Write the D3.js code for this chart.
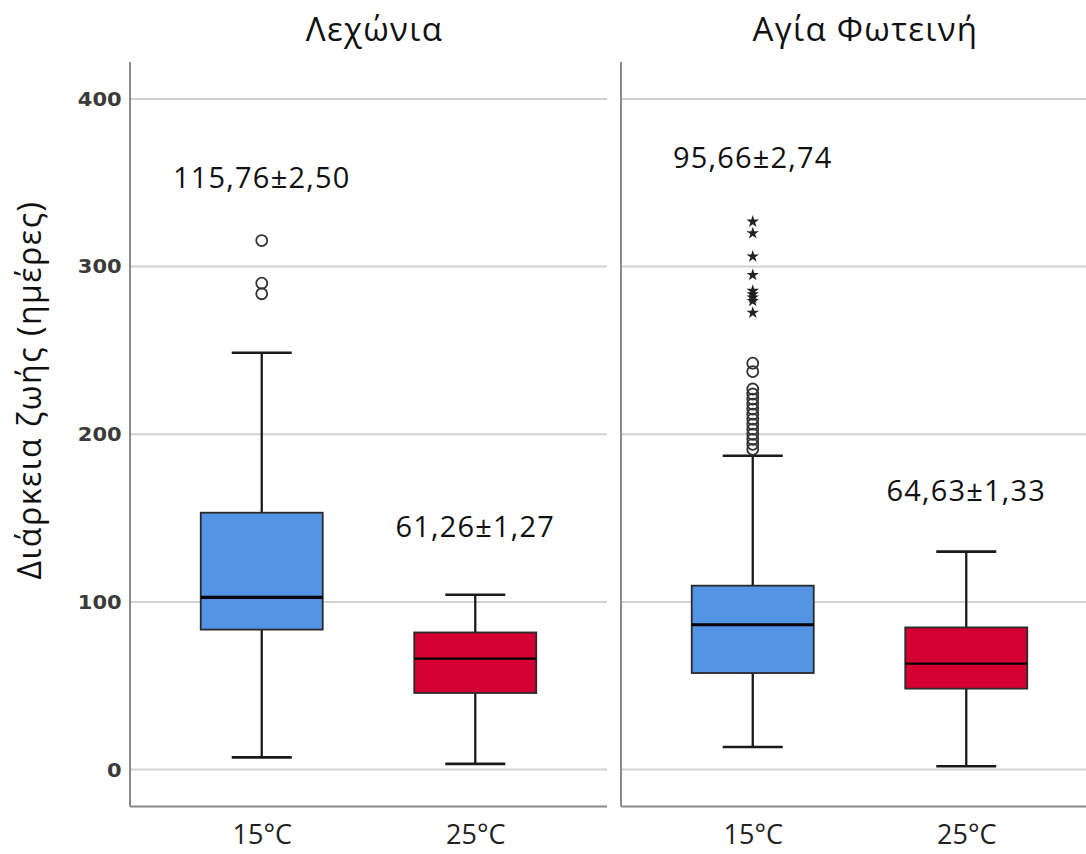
<!DOCTYPE html>
<html>
<head>
<meta charset="utf-8">
<script src="https://d3js.org/d3.v7.min.js"></script>
<style>
  body { margin: 0; background: #fff; }
  text { font-family: "Open Sans", "Noto Sans", sans-serif; fill: #111; }
</style>
</head>
<body>
<script>
// panels (sites) and groups (temperature)
const sites = ["Λεχώνια", "Αγία Φωτεινή"];
const temps = ["15°C", "25°C"];
const yTicks = [0, 100, 200, 300, 400];

// one entry per box: site index, temp index
const boxSite = [0, 0, 1, 1];
const boxTemp = [0, 1, 0, 1];
const whiskerLow  = [7.3, 3.4, 13.5, 2.0];
const q1          = [83.5, 45.7, 57.6, 48.3];
const median      = [102.7, 66.2, 86.4, 63.2];
const q3          = [153.2, 81.8, 109.7, 84.8];
const whiskerHigh = [248.6, 104.3, 187.2, 130.0];
const meanLabel   = ["115,76±2,50", "61,26±1,27", "95,66±2,74", "64,63±1,33"];
const labelValue  = [347, 139, 359, 160];

// outliers (circles) and extremes (stars)
const outlierCircles = [
  [315.5, 290.1, 283.8],
  [],
  [242.4, 237.4, 227, 224, 221, 218, 215, 212, 209, 206, 203, 200, 197, 194, 191],
  []
];
const extremeStars = [
  [],
  [],
  [326.8, 319.9, 306.0, 295.0, 285.5, 283.5, 281.5, 279.5, 272.5],
  []
];

const boxFill = ["#5394e4", "#d50032"];

const W = 1086, H = 854;
const svg = d3.select("body").append("svg")
    .attr("width", W)
    .attr("height", H);

const y = d3.scaleLinear().domain([-22, 422]).range([806.5, 62]);

const panel = d3.scaleBand().domain(sites).range([130, 1098]).paddingInner(0.0285);
const bw = panel.bandwidth();
const x = d3.scalePoint().domain(temps).range([0, bw]).padding(0.617);

const boxW = 122, capW = 60;

sites.forEach(function(site, si) {
    const g = svg.append("g").attr("transform", "translate(" + panel(site) + ",0)");

    // gridlines
    g.selectAll(".grid")
        .data(yTicks)
        .enter().append("line")
        .attr("x1", 0).attr("x2", bw)
        .attr("y1", d => y(d)).attr("y2", d => y(d))
        .attr("stroke", "#d2d2d2")
        .attr("stroke-width", 2);

    // left + bottom frame
    g.append("line")
        .attr("x1", 0).attr("x2", 0)
        .attr("y1", y.range()[1]).attr("y2", y.range()[0])
        .attr("stroke", "#8a8a8a").attr("stroke-width", 2);
    g.append("line")
        .attr("x1", 0).attr("x2", bw)
        .attr("y1", y.range()[0]).attr("y2", y.range()[0])
        .attr("stroke", "#8a8a8a").attr("stroke-width", 2);

    // y tick labels only on first panel
    if (si === 0) {
        const ax = g.append("g")
            .call(d3.axisLeft(y).tickValues(yTicks).tickSize(0).tickPadding(8));
        ax.select(".domain").remove();
        ax.selectAll("text")
            .style("font-family", "'DejaVu Sans', sans-serif")
            .style("font-size", "20px")
            .style("font-weight", "bold")
            .style("fill", "#3a3a3a")
            .attr("transform", "scale(1.05,1)");
    }

    // x labels
    const xa = g.append("g")
        .attr("transform", "translate(0," + y.range()[0] + ")")
        .call(d3.axisBottom(x).tickSize(0).tickPadding(18));
    xa.select(".domain").remove();
    xa.selectAll("text")
        .style("font-size", "27px")
        .style("fill", "#222");

    // title
    svg.append("text")
        .attr("x", panel(site) + bw / 2 + 6)
        .attr("y", 41)
        .attr("text-anchor", "middle")
        .style("font-size", "33px")
        .style("letter-spacing", "1.3px")
        .text(site);
});

// boxes
const idx = d3.range(boxSite.length);
const bg = svg.selectAll(".box")
    .data(idx)
    .enter().append("g")
    .attr("class", "box")
    .attr("transform", i => "translate(" + (panel(sites[boxSite[i]]) + x(temps[boxTemp[i]])) + ",0)");

// whisker stems
bg.append("line")
    .attr("x1", 0).attr("x2", 0)
    .attr("y1", i => y(whiskerLow[i])).attr("y2", i => y(q1[i]))
    .attr("stroke", "#1a1a1a").attr("stroke-width", 2.3);
bg.append("line")
    .attr("x1", 0).attr("x2", 0)
    .attr("y1", i => y(q3[i])).attr("y2", i => y(whiskerHigh[i]))
    .attr("stroke", "#1a1a1a").attr("stroke-width", 2.3);
// caps
bg.append("line")
    .attr("x1", -capW / 2).attr("x2", capW / 2)
    .attr("y1", i => y(whiskerLow[i])).attr("y2", i => y(whiskerLow[i]))
    .attr("stroke", "#1a1a1a").attr("stroke-width", 2.6);
bg.append("line")
    .attr("x1", -capW / 2).attr("x2", capW / 2)
    .attr("y1", i => y(whiskerHigh[i])).attr("y2", i => y(whiskerHigh[i]))
    .attr("stroke", "#1a1a1a").attr("stroke-width", 2.6);
// box
bg.append("rect")
    .attr("x", -boxW / 2)
    .attr("width", boxW)
    .attr("y", i => y(q3[i]))
    .attr("height", i => y(q1[i]) - y(q3[i]))
    .attr("fill", i => boxFill[boxTemp[i]])
    .attr("stroke", "#2a2a2a").attr("stroke-width", 1.8);
// median
bg.append("line")
    .attr("x1", -boxW / 2).attr("x2", boxW / 2)
    .attr("y1", i => y(median[i])).attr("y2", i => y(median[i]))
    .attr("stroke", "#000")
    .attr("stroke-width", i => boxTemp[i] === 0 ? 3.2 : 2.4);

// outliers
bg.each(function(i) {
    const g = d3.select(this);
    g.selectAll(".out")
        .data(outlierCircles[i])
        .enter().append("circle")
        .attr("cx", 0).attr("cy", d => y(d))
        .attr("r", 5.5)
        .attr("fill", "none")
        .attr("stroke", "#333").attr("stroke-width", 1.8);
    g.selectAll(".star")
        .data(extremeStars[i])
        .enter().append("path")
        .attr("d", d3.symbol().type(d3.symbolStar).size(48))
        .attr("transform", d => "translate(0," + y(d) + ")")
        .attr("fill", "#222");
});

// mean ± se labels
bg.append("text")
    .attr("x", 0)
    .attr("y", i => y(labelValue[i]))
    .attr("text-anchor", "middle")
    .style("font-size", "29px")
    .style("letter-spacing", "1.2px")
    .text(i => meanLabel[i]);

// y axis title
svg.append("text")
    .attr("transform", "translate(41," + 390 + ") rotate(-90)")
    .attr("text-anchor", "middle")
    .style("font-size", "32px")
    .style("letter-spacing", "1.5px")
    .text("Διάρκεια ζωής (ημέρες)");
</script>
</body>
</html>
